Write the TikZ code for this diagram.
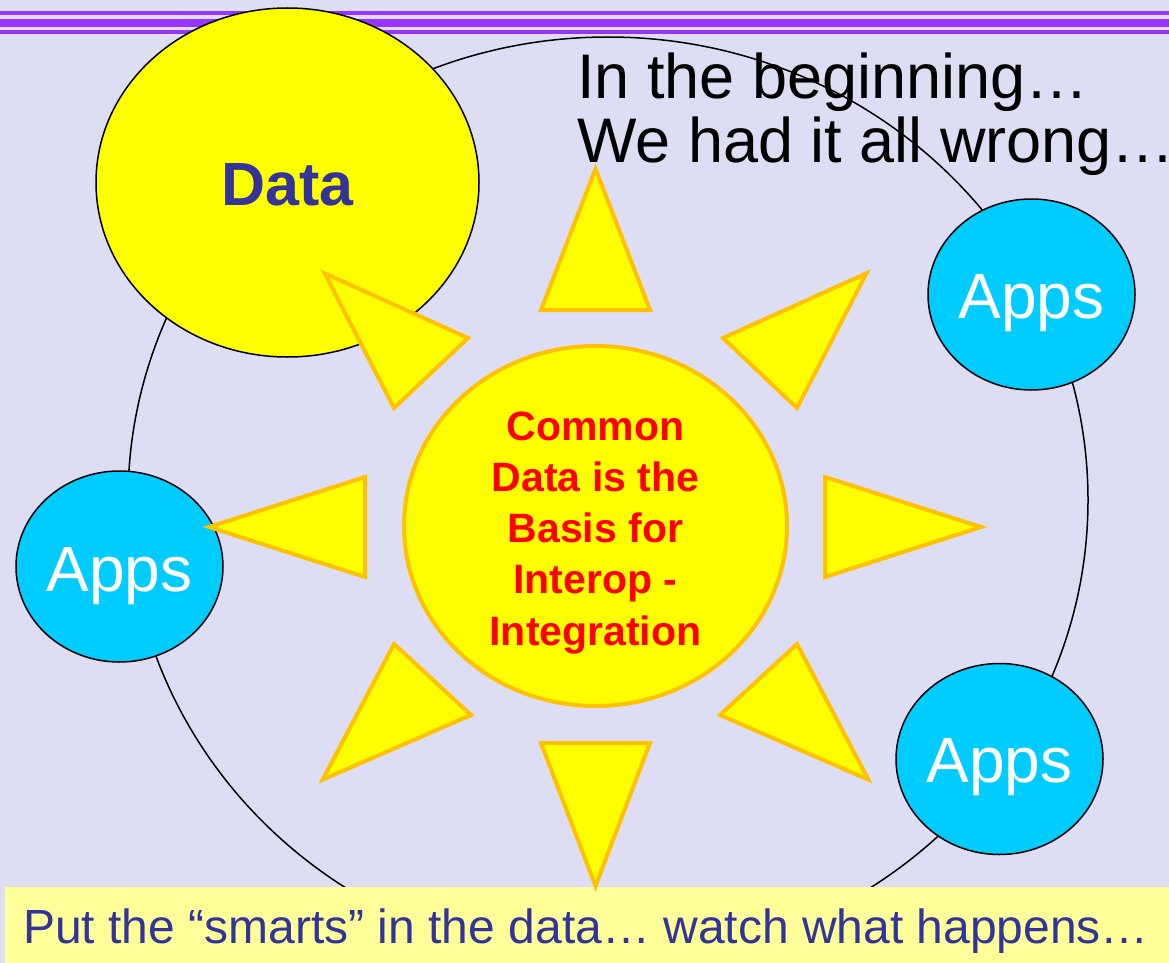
\documentclass[tikz,border=0pt]{standalone}
\usepackage{fontspec}
\setmainfont{Liberation Sans}
\usetikzlibrary{shapes.geometric}
\definecolor{bg}{RGB}{221,221,243}
\definecolor{purp}{RGB}{153,51,255}
\definecolor{sunyellow}{RGB}{255,255,0}
\definecolor{sunorange}{RGB}{255,192,0}
\definecolor{appcyan}{RGB}{0,204,255}
\definecolor{navy}{RGB}{51,51,153}
\definecolor{notebg}{RGB}{255,255,153}
\begin{document}
\begin{tikzpicture}[x=1pt,y=-1pt,
  ray/.style={fill=sunyellow, draw=sunorange, line width=4pt, line join=miter},
  appnode/.style={ellipse, draw=black, line width=1.5pt, fill=appcyan,
    minimum width=207pt, minimum height=191pt, inner sep=0pt, text=white,
    font=\fontsize{64}{70}\selectfont, text height=48pt, text depth=0pt},
  bar/.style={purp}]
\useasboundingbox (0,0) rectangle (1169,963);
\fill[bg] (0,0) rectangle (1169,963);
% top bars
\draw[bar, line width=3.5pt] (0,13.2) -- (1169,13.2);
\draw[bar, line width=7.7pt] (0,22.8) -- (1169,22.8);
\draw[bar, line width=4pt] (0,32.3) -- (1169,32.3);
% outer ring
\node[ellipse, draw=black, line width=1.5pt, minimum width=960pt, minimum height=926pt, inner sep=0pt] (ring) at (608,500) {};
% data
\node[ellipse, draw=black, line width=1.5pt, fill=sunyellow, minimum width=383pt, minimum height=349pt,
  inner sep=0pt, text=navy, font=\bfseries\fontsize{61}{70}\selectfont, text height=46.4pt, text depth=0pt]
  (data) at (287.5,182.5) {Data};
% apps
\node[appnode, text height=49pt] (appsL) at (119.5,566.5) {Apps};
\node[appnode, text height=47pt] (appsUR) at (1031.5,294.5) {Apps};
\node[appnode, text height=47.4pt] (appsLR) at (999.5,759) {Apps};
% core
\node[ellipse, draw=sunorange, line width=4pt, fill=sunyellow, minimum width=383pt, minimum height=360pt, inner sep=0pt] (core) at (595.5,526) {};
\node[align=center, text=red, font=\bfseries\fontsize{41}{51.25}\selectfont, anchor=base, inner sep=0pt]
  (coretext) at (595.5,645) {Common\\Data is the\\Basis for\\Interop -\\Integration};
% note box
\node[fill=notebg, anchor=north west, minimum width=1164pt, minimum height=77pt, inner sep=0pt] (notebox) at (5,886.7) {};
\node[anchor=base west, inner sep=0pt, text=navy, font=\fontsize{48}{52}\selectfont] (note) at (23,943)
  {Put the “smarts” in the data… watch what happens…};
% rays
\draw[ray] (595.5,169) -- (650,310) -- (541,310) -- cycle;
\draw[ray] (595.5,886) -- (650,743) -- (541,743) -- cycle;
\draw[ray] (209,527) -- (365,477) -- (365,577) -- cycle;
\draw[ray] (981,527) -- (825,477) -- (825,577) -- cycle;
\draw[ray] (324.7,273.4) -- (468,338) -- (394,408) -- cycle;
\draw[ray] (866.3,273.4) -- (723,338) -- (797,408) -- cycle;
\draw[ray] (322.7,779.6) -- (471,715) -- (394,644) -- cycle;
\draw[ray] (868.3,779.6) -- (720,715) -- (797,644) -- cycle;
% title
\node[anchor=base west, inner sep=0pt, font=\fontsize{63}{63}\selectfont] (title1) at (577,99) {In the beginning…};
\node[anchor=base west, inner sep=0pt, font=\fontsize{63}{63}\selectfont] (title2) at (577,162) {We had it all wrong…};
\end{tikzpicture}
\end{document}
